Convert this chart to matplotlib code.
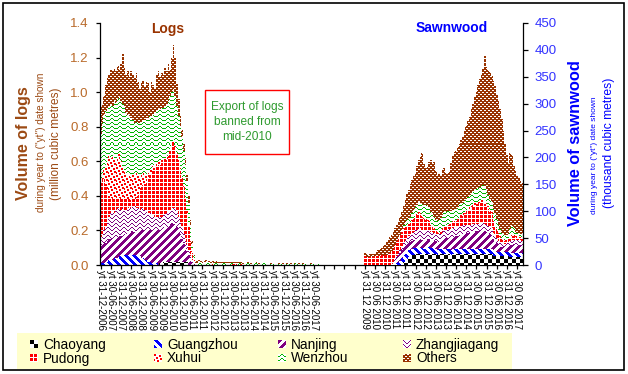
"""
Chinese log and sawnwood imports by port - stacked monthly columns
"""

import numpy as np
import matplotlib
matplotlib.use("Agg")
import matplotlib.pyplot as plt
from matplotlib.colors import to_rgb
from matplotlib.patches import Rectangle

plt.rcParams['font.family'] = ['Liberation Sans', 'DejaVu Sans']

series = ["Chaoyang", "Guangzhou", "Nanjing", "Zhangjiagang",
          "Pudong", "Xuhui", "Wenzhou", "Others"]

# logs, million m3, yt Dec 2006 .. Sep 2017 (monthly)
logs_chaoyang = [
    0, 0, 0, 0, 0, 0, 0, 0, 0, 0,
    0, 0, 0, 0, 0, 0, 0, 0, 0, 0,
    0, 0, 0, 0, 0, 0, 0, 0, 0, 0,
    0, 0, 0, 0, 0, .01, .01, .015, .015, .015,
    .015, .015, .015, .015, .015, .015, .015, .015, .015, .015,
    .015, .015, 0, 0, 0, 0, 0, 0, 0, 0,
    0, 0, 0, 0, 0, 0, 0, 0, 0, 0,
    0, 0, 0, 0, 0, 0, 0, 0, 0, 0,
    0, 0, 0, 0, 0, 0, 0, 0, 0, 0,
    0, 0, 0, 0, 0, 0, 0, 0, 0, 0,
    0, 0, 0, 0, 0, 0, 0, 0, 0, 0,
    0, 0, 0, 0, 0, 0, 0, 0, 0, 0,
    0, 0, 0, 0, 0, 0, 0, 0, 0, 0]
logs_guangzhou = [
    .01, .01, .01, .02, .02, .03, .03, .03, .04, .04,
    .04, .05, .05, .05, .06, .06, .06, .06, .06, .06,
    .06, .06, .05, .05, .04, .04, .03, .03, .02, .02,
    .01, .01, .01, .01, 0, 0, 0, 0, 0, 0,
    0, 0, 0, 0, 0, 0, 0, 0, 0, 0,
    0, 0, 0, 0, 0, 0, 0, 0, 0, 0,
    0, 0, 0, 0, 0, 0, 0, 0, 0, 0,
    0, 0, 0, 0, 0, 0, 0, 0, 0, 0,
    0, 0, 0, 0, 0, 0, 0, 0, 0, 0,
    0, 0, 0, 0, 0, 0, 0, 0, 0, 0,
    0, 0, 0, 0, 0, 0, 0, 0, 0, 0,
    0, 0, 0, 0, 0, 0, 0, 0, 0, 0,
    0, 0, 0, 0, 0, 0, 0, 0, 0, 0]
logs_nanjing = [
    .10, .11, .12, .11, .12, .12, .12, .12, .12, .12,
    .12, .12, .12, .12, .12, .12, .12, .13, .13, .13,
    .13, .13, .14, .15, .16, .16, .17, .17, .18, .18,
    .19, .19, .19, .19, .20, .19, .20, .195, .205, .205,
    .215, .215, .225, .225, .225, .205, .185, .165, .135, .105,
    .085, .065, .06, .04, .02, 0, 0, 0, 0, 0,
    0, 0, 0, 0, 0, 0, 0, 0, 0, 0,
    0, 0, 0, 0, 0, 0, 0, 0, 0, 0,
    0, 0, 0, 0, 0, 0, 0, 0, 0, 0,
    0, 0, 0, 0, 0, 0, 0, 0, 0, 0,
    0, 0, 0, 0, 0, 0, 0, 0, 0, 0,
    0, 0, 0, 0, 0, 0, 0, 0, 0, 0,
    0, 0, 0, 0, 0, 0, 0, 0, 0, 0]
logs_zhangjiagang = [
    .05, .06, .07, .09, .11, .13, .15, .16, .14, .15,
    .17, .16, .15, .16, .14, .14, .15, .15, .14, .15,
    .15, .14, .14, .12, .13, .13, .12, .11, .10, .10,
    .09, .09, .08, .08, .08, .08, .07, .08, .07, .08,
    .08, .09, .09, .09, .09, .09, .08, .07, .07, .06,
    .05, .04, .02, .01, .01, .01, 0, 0, 0, 0,
    0, 0, 0, 0, 0, 0, 0, 0, 0, 0,
    0, 0, 0, 0, 0, 0, 0, 0, 0, 0,
    0, 0, 0, 0, 0, 0, 0, 0, 0, 0,
    0, 0, 0, 0, 0, 0, 0, 0, 0, 0,
    0, 0, 0, 0, 0, 0, 0, 0, 0, 0,
    0, 0, 0, 0, 0, 0, 0, 0, 0, 0,
    0, 0, 0, 0, 0, 0, 0, 0, 0, 0]
logs_pudong = [
    .32, .32, .30, .23, .17, .12, .09, .07, .08, .07,
    .05, .06, .06, .05, .06, .06, .05, .04, .04, .04,
    .04, .06, .07, .10, .12, .13, .15, .17, .20, .22,
    .24, .26, .28, .29, .30, .30, .31, .30, .31, .31,
    .32, .34, .37, .39, .35, .33, .32, .30, .28, .27,
    .23, .18, .14, .09, .04, .01, 0, 0, .002, 0,
    0, .002, 0, 0, 0, 0, .004, 0, 0, 0,
    0, 0, 0, 0, 0, 0, 0, 0, .003, .004,
    .003, .002, .004, .003, 0, 0, 0, 0, 0, 0,
    0, 0, .002, 0, 0, 0, 0, 0, 0, 0,
    0, 0, 0, 0, .002, 0, 0, 0, 0, 0,
    0, 0, 0, 0, 0, 0, 0, 0, 0, 0,
    0, 0, 0, 0, 0, 0, 0, 0, 0, 0]
logs_xuhui = [
    .02, .02, .05, .13, .20, .24, .23, .25, .23, .22,
    .26, .26, .22, .18, .17, .15, .14, .14, .14, .14,
    .14, .14, .12, .09, .07, .07, .05, .04, .03, .03,
    .03, .02, .02, .02, .02, .02, .02, .02, .02, .02,
    .02, .01, .01, .01, .01, .01, .01, .01, .01, .01,
    .01, .01, .01, .01, .01, .01, 0, 0, 0, 0,
    0, 0, 0, 0, 0, 0, 0, 0, 0, 0,
    0, 0, 0, 0, 0, 0, 0, 0, 0, 0,
    0, 0, 0, 0, 0, 0, 0, 0, 0, 0,
    0, 0, 0, 0, 0, 0, 0, 0, 0, 0,
    0, 0, 0, 0, 0, 0, 0, 0, 0, 0,
    0, 0, 0, 0, 0, 0, 0, 0, 0, 0,
    0, 0, 0, 0, 0, 0, 0, 0, 0, 0]
logs_wenzhou = [
    .26, .30, .32, .31, .28, .28, .31, .29, .34, .34,
    .32, .32, .35, .37, .37, .35, .35, .34, .34, .32,
    .30, .30, .30, .31, .31, .31, .32, .33, .32, .31,
    .30, .30, .30, .30, .30, .30, .30, .30, .30, .30,
    .30, .31, .29, .29, .29, .27, .25, .24, .23, .20,
    .19, .17, .13, .08, .04, .02, .010, .012, .015, .015,
    .014, .013, .015, .016, .015, .014, .012, .013, .014, .012,
    .011, .010, .012, .011, .010, .010, .009, .010, .011, .010,
    .009, .008, .010, .009, .008, .008, .009, .010, .008, .007,
    .008, .009, .008, .007, .007, .008, .009, .010, .009, .008,
    .008, .007, .008, .009, .008, .007, .007, .006, .007, .008,
    .007, .006, .006, .007, .008, .009, .008, .007, .006, .006,
    .007, .008, .009, .008, .007, .006, .006, .005, .005, .005]
logs_others = [
    .16, .11, .11, .15, .18, .18, .20, .20, .19, .18,
    .19, .16, .21, .29, .22, .22, .25, .23, .27, .26,
    .26, .28, .24, .20, .22, .23, .19, .21, .20, .14,
    .20, .17, .14, .21, .22, .19, .20, .19, .22, .19,
    .21, .15, .20, .25, .22, .13, .10, .06, .04, .04,
    .04, .04, .04, .03, .02, .01, .008, .010, .012, .010,
    .008, .010, .012, .010, .008, .006, .006, .008, .007, .006,
    .005, .006, .007, .006, .005, .005, .006, .005, .004, .005,
    .006, .005, .004, .004, .005, .004, .004, .005, .006, .005,
    .004, .004, .005, .004, .003, .004, .005, .004, .004, .003,
    .004, .005, .004, .003, .003, .004, .003, .004, .003, .003,
    .004, .003, .003, .004, .003, .003, .004, .003, .003, .004,
    .003, .003, .002, .003, .003, .002, .002, .002, .003, .002]

# sawnwood, thousand m3, yt Dec 2009 .. Sep 2017 (monthly)
saw_chaoyang = [
    0, 0, 0, 0, 0, 0, 0, 0, 0, 0,
    0, 0, 0, 0, 0, 0, 0, 0, 0, 0,
    0, 0, 3, 6, 9, 12, 14, 16, 18, 19,
    20, 20, 21, 20, 20, 19, 20, 20, 21, 20,
    20, 20, 20, 19, 20, 20, 20, 21, 20, 20,
    20, 19, 20, 20, 20, 21, 20, 20, 20, 20,
    20, 20, 20, 20, 20, 20, 20, 20, 20, 20,
    20, 20, 20, 20, 20, 20, 17, 17, 17, 17,
    17, 17, 17, 17, 17, 17, 15, 15, 15, 15,
    15, 15, 15, 15]
saw_guangzhou = [
    0, 0, 0, 0, 0, 0, 0, 0, 0, 0,
    0, 0, 0, 0, 0, 0, 0, 0, 2, 4,
    6, 8, 10, 12, 12, 13, 13, 12, 12, 12,
    12, 12, 13, 12, 12, 11, 12, 12, 12, 11,
    11, 10, 10, 9, 9, 9, 9, 9, 9, 9,
    9, 9, 9, 9, 9, 9, 9, 9, 9, 10,
    10, 10, 10, 10, 10, 10, 10, 10, 10, 10,
    10, 10, 10, 10, 10, 10, 8, 8, 8, 8,
    8, 8, 8, 8, 8, 8, 8, 8, 8, 8,
    8, 8, 8, 8]
saw_nanjing = [
    0, 0, 0, 0, 0, 0, 0, 0, 0, 0,
    0, 0, 0, 0, 0, 0, 2, 4, 7, 10,
    12, 14, 15, 16, 16, 15, 15, 14, 15, 15,
    15, 15, 16, 16, 15, 15, 14, 15, 15, 14,
    14, 14, 14, 14, 14, 15, 18, 20, 21, 22,
    22, 23, 23, 24, 24, 24, 26, 27, 28, 28,
    29, 30, 30, 31, 32, 32, 33, 33, 34, 34,
    34, 33, 32, 30, 28, 26, 24, 20, 16, 12,
    10, 9, 9, 8, 9, 10, 14, 15, 16, 16,
    15, 15, 15, 14]
saw_zhangjiagang = [
    0, 0, 0, 0, 0, 0, 0, 0, 0, 0,
    0, 0, 0, 0, 0, 0, 0, 0, 2, 3,
    4, 5, 6, 8, 9, 10, 12, 14, 15, 16,
    18, 18, 19, 20, 19, 18, 18, 17, 17, 16,
    16, 15, 14, 14, 14, 14, 15, 15, 16, 16,
    16, 16, 17, 17, 17, 18, 18, 17, 17, 16,
    16, 15, 15, 14, 14, 14, 14, 14, 14, 14,
    14, 14, 13, 12, 12, 12, 11, 10, 9, 7,
    6, 6, 6, 6, 6, 6, 8, 8, 8, 8,
    8, 8, 8, 8]
saw_pudong = [
    16, 15, 14, 15, 16, 15, 16, 17, 16, 17,
    18, 17, 18, 19, 20, 22, 24, 26, 27, 28,
    28, 28, 26, 24, 24, 22, 22, 22, 22, 24,
    26, 28, 28, 26, 24, 22, 20, 18, 16, 14,
    12, 8, 4, 3, 3, 4, 5, 6, 7, 8,
    8, 9, 10, 11, 12, 14, 15, 16, 18, 20,
    22, 25, 28, 30, 32, 34, 35, 36, 37, 38,
    38, 37, 35, 32, 28, 25, 22, 18, 14, 10,
    8, 7, 6, 5, 5, 5, 6, 7, 6, 5,
    5, 5, 5, 5]
saw_xuhui = [
    0, 0, 0, 0, 0, 0, 0, 0, 0, 0,
    0, 0, 0, 0, 0, 0, 0, 0, 0, 0,
    0, 0, 2, 2, 2, 2, 2, 2, 2, 2,
    2, 2, 2, 2, 2, 2, 2, 2, 2, 2,
    2, 2, 2, 2, 2, 2, 2, 2, 2, 2,
    2, 2, 2, 2, 2, 2, 5, 5, 5, 5,
    5, 5, 5, 5, 5, 5, 5, 5, 5, 5,
    5, 5, 5, 5, 5, 5, 5, 5, 5, 5,
    5, 2, 2, 2, 2, 2, 2, 2, 2, 2,
    2, 2, 2, 2]
saw_wenzhou = [
    0, 0, 0, 0, 0, 0, 0, 0, 0, 0,
    0, 0, 0, 0, 0, 0, 0, 0, 0, 0,
    0, 0, 4, 6, 8, 9, 10, 10, 12, 14,
    15, 16, 18, 20, 22, 24, 25, 25, 24, 22,
    22, 21, 20, 20, 22, 24, 24, 25, 24, 23,
    22, 22, 21, 20, 20, 20, 20, 20, 19, 20,
    20, 21, 22, 22, 23, 24, 24, 25, 25, 26,
    27, 28, 24, 22, 20, 19, 18, 17, 16, 15,
    13, 11, 9, 7, 8, 10, 14, 18, 14, 8,
    6, 5, 5, 5]
saw_others = [
    6, 5, 4, 5, 6, 5, 6, 8, 12, 13,
    14, 18, 20, 23, 28, 30, 30, 32, 30, 30,
    32, 35, 32, 36, 42, 49, 52, 60, 62, 63,
    64, 74, 78, 84, 94, 77, 69, 73, 85, 96,
    93, 102, 91, 87, 86, 80, 85, 82, 73, 72,
    76, 90, 103, 107, 108, 112, 112, 118, 124, 131,
    136, 142, 146, 158, 164, 173, 181, 192, 200, 208,
    217, 241, 229, 231, 235, 235, 237, 237, 233, 231,
    223, 212, 193, 172, 150, 132, 141, 132, 116, 113,
    109, 104, 98, 95]

logs_labels = ["yt 31-12-2006", "yt 30-06-2007", "yt 31-12-2007", "yt 30-06-2008",
               "yt 31-12-2008", "yt 30-06-2009", "yt 31-12-2009", "yt 30-06-2010",
               "yt 31-12-2010", "yt 30-06-2011", "yt 31-12-2011", "yt 30-06-2012",
               "yt 31-12-2012", "yt 30-06-2013", "yt 31-12-2013", "yt 30-06-2014",
               "yt 31-12-2014", "yt 30-06-2015", "yt 31-12-2015", "yt 30-06-2016",
               "yt 31-12-2016", "yt 30-06-2017"]
saw_labels = ["yt 31 12 2009", "yt 30 06 2010", "yt 31 12 2010", "yt 30 06 2011",
              "yt 31 12 2011", "yt 30 06 2012", "yt 31 12 2012", "yt 30 06 2013",
              "yt 31 12 2013", "yt 30 06 2014", "yt 31 12 2014", "yt 30 06 2015",
              "yt 31 12 2015", "yt 30 06 2016", "yt 31 12 2016", "yt 30 06 2017"]
logs_ticks = [0.0, 0.2, 0.4, 0.6, 0.8, 1.0, 1.2, 1.4]
saw_ticks = [0, 50, 100, 150, 200, 250, 300, 350, 400, 450]

logs_layers = [logs_chaoyang, logs_guangzhou, logs_nanjing, logs_zhangjiagang,
               logs_pudong, logs_xuhui, logs_wenzhou, logs_others]
saw_layers = [saw_chaoyang, saw_guangzhou, saw_nanjing, saw_zhangjiagang,
              saw_pudong, saw_xuhui, saw_wenzhou, saw_others]

# Excel-like 8x8 fill patterns: rows, foreground, background
patterns = {
    "Chaoyang": (["11110000"] * 4 + ["00001111"] * 4, "#000000", "#ffffff"),
    "Guangzhou": (["11110000", "01111000", "00111100", "00011110",
                   "00001111", "10000111", "11000011", "11100001"], "#0000ff", "#ffffff"),
    "Nanjing": (["11110000", "11100001", "11000011", "10000111",
                 "00001111", "00011110", "00111100", "01111000"], "#800080", "#ffffff"),
    "Zhangjiagang": (["10000001", "01000010", "00100100", "00011000"] * 2, "#800080", "#ffffff"),
    "Pudong": (["1110", "1110", "1110", "0000"], "#ff0000", "#ffffff"),
    "Xuhui": (["11000000", "11000110", "00000110", "00110000",
               "00110011", "10000011", "10011000", "00011000"], "#ff0000", "#ffffff"),
    "Wenzhou": (["00011000", "00100100", "11000011", "00000000"], "#00b400", "#ffffff"),
    "Others": (["0011", "1111", "1100", "1111"], "#993300", "#ffffff"),
}

W, H = 628, 374
AX_L, AX_R, AX_T, AX_B = 100, 523, 23, 265
SAW_START = 156
XLIM = (-0.5, 249.5)

brown = "#9c4a14"
brown_tick = "#b96a2a"
blue = "#0000ff"
blue_tick = "#3333ff"


def texture(rows, fg, bg, h, w):
    bits = np.array([[c == '1' for c in r] for r in rows])
    reps = (h // bits.shape[0] + 1, w // bits.shape[1] + 1)
    tiled = np.tile(bits, reps)[:h, :w]
    return np.where(tiled[..., None], np.array(to_rgb(fg)), np.array(to_rgb(bg)))


def draw_stack(axis, x, layers, ylim):
    xe = np.append(x - 0.5, x[-1] + 0.5)
    base = np.zeros(len(x))
    for name, vals in zip(series, layers):
        top = base + np.asarray(vals, float)
        rows, fg, bg = patterns[name]
        poly = axis.fill_between(xe, np.append(base, base[-1]), np.append(top, top[-1]),
                                 step='post', facecolor=fg, linewidth=0, zorder=1)
        img = axis.imshow(texture(rows, fg, bg, AX_B - AX_T, AX_R - AX_L),
                          extent=(XLIM[0], XLIM[1], ylim[0], ylim[1]), origin='upper',
                          interpolation='nearest', aspect='auto', zorder=2)
        img.set_clip_path(poly.get_paths()[0], axis.transData)
        base = top


def fx(px):
    return px / W


def fy(py):
    return 1 - py / H


fig = plt.figure(figsize=(W / 100, H / 100), dpi=100)
ax = fig.add_axes([fx(AX_L), fy(AX_B), (AX_R - AX_L) / W, (AX_B - AX_T) / H])
ax2 = ax.twinx()

logs_x = np.arange(len(logs_others))
saw_x = SAW_START + np.arange(len(saw_others))
draw_stack(ax, logs_x, logs_layers, (0, 1.4))
draw_stack(ax2, saw_x, saw_layers, (0, 450))

ax.set_xlim(*XLIM)
ax.set_ylim(0, 1.4)
ax2.set_ylim(0, 450)

# category ticks every 6 months, labels only where there is data
logs_tick_x = np.arange(len(logs_labels)) * 6
gap_tick_x = np.arange(logs_tick_x[-1] + 6, SAW_START, 6)
saw_tick_x = SAW_START + np.arange(len(saw_labels)) * 6
ax.set_xticks(np.concatenate([logs_tick_x, gap_tick_x, saw_tick_x]),
              logs_labels + [""] * len(gap_tick_x) + saw_labels, rotation=-90)
ax.set_yticks(logs_ticks, ["%.1f" % v for v in logs_ticks])
ax2.set_yticks(saw_ticks, [str(v) for v in saw_ticks])

ax.tick_params(axis='x', direction='out', length=3, width=0.9, labelsize=7, pad=0.5)
ax.tick_params(axis='y', direction='out', length=3, width=0.9, labelsize=9.5,
               labelcolor=brown_tick, pad=5)
ax2.tick_params(axis='y', direction='out', length=3.5, width=0.9, labelsize=9.5,
                labelcolor=blue_tick, pad=5)
for s in ['top', 'right']:
    ax.spines[s].set_visible(False)
for s in ['top', 'left', 'bottom']:
    ax2.spines[s].set_visible(False)
for s in ax.spines.values():
    s.set_linewidth(0.9)
ax2.spines['right'].set_linewidth(0.9)

# titles and axis captions
fig.text(fx(168), fy(29), "Logs", ha='center', va='center', fontsize=10,
         fontweight='bold', color="#993300")
fig.text(fx(451.5), fy(28), "Sawnwood", ha='center', va='center', fontsize=10,
         fontweight='bold', color=blue)
fig.text(fx(23.5), fy(143.5), "Volume of logs", rotation=90, ha='center', va='center',
         fontsize=11.5, fontweight='bold', color=brown)
fig.text(fx(41.5), fy(142), 'during year to ("yt") date shown', rotation=90,
         ha='center', va='center', fontsize=7.2, color=brown)
fig.text(fx(56), fy(143.5), "(million cubic metres)", rotation=90, ha='center',
         va='center', fontsize=8.6, color=brown)
fig.text(fx(575), fy(143.5), "Volume of sawnwood", rotation=90, ha='center', va='center',
         fontsize=11.8, fontweight='bold', color=blue)
fig.text(fx(595), fy(155.5), 'during year to ("yt") date shown', rotation=90,
         ha='center', va='center', fontsize=6, color=blue)
fig.text(fx(609), fy(143), "(thousand cubic metres)", rotation=90, ha='center',
         va='center', fontsize=8.7, color=blue)

# note box
fig.add_artist(Rectangle((fx(205), fy(154)), 84 / W, 64 / H, transform=fig.transFigure,
                         facecolor='white', edgecolor='#ff0000', linewidth=1))
fig.text(fx(247), fy(122), "Export of logs\nbanned from\nmid-2010", ha='center',
         va='center', fontsize=8.6, color="#2e9a2e", linespacing=1.3)

# legend strip
lax = fig.add_axes([fx(17), fy(369), 495 / W, 36 / H])
lax.set_facecolor("#ffffcc")
swatch_x = [13, 137, 261, 386]
swatch_y = [7, 21]
for k, name in enumerate(series):
    sx, sy = swatch_x[k % 4], swatch_y[k // 4]
    rows, fg, bg = patterns[name]
    lax.imshow(texture(rows, fg, bg, 8, 8), extent=(sx, sx + 8, sy + 8, sy),
               interpolation='nearest', aspect='auto')
    lax.text(sx + 13, sy + 4.5, name, va='center', ha='left', fontsize=9.8)
lax.set_xlim(0, 495)
lax.set_ylim(36, 0)
lax.set_xticks([])
lax.set_yticks([])
for s in lax.spines.values():
    s.set_visible(False)

# outer frame
fig.add_artist(Rectangle((fx(3), fy(370)), 621 / W, 367 / H, transform=fig.transFigure,
                         fill=False, edgecolor='black', linewidth=1.2))

fig.savefig("out.png", dpi=100)
